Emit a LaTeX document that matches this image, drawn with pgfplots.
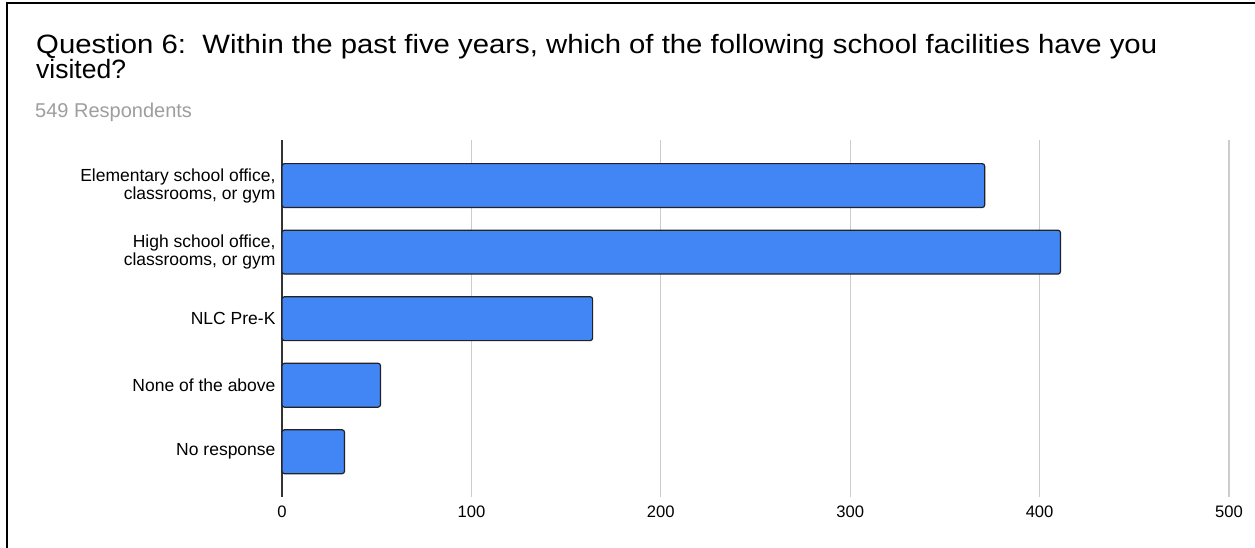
\documentclass[border=0pt]{standalone}
\usepackage{pgfplots}
\pgfplotsset{compat=1.18}
\usepackage{fontspec}
\setmainfont{Liberation Sans}
\definecolor{barblue}{HTML}{4285F4}
\definecolor{baredge}{HTML}{222222}
\definecolor{gridgray}{HTML}{CCCCCC}
\definecolor{subgray}{HTML}{9E9E9E}
\definecolor{axisdark}{HTML}{333333}
\begin{document}
\begin{tikzpicture}[x=1pt,y=1pt]
\useasboundingbox (0,0) rectangle (1255,548);
\fill[white] (0,0) rectangle (1255,548);
\draw[line width=2pt,black] (7,0) -- (7,544.5) -- (1255,544.5);
\node[anchor=base west,inner sep=0pt,font=\fontsize{26.5}{28}\selectfont] at (36,494) {\resizebox{1121pt}{\height}{Question 6:\ \ Within the past five years, which of the following school facilities have you}};
\node[anchor=base west,inner sep=0pt,font=\fontsize{26.5}{28}\selectfont] at (36,469) {\resizebox{!}{\height}{visited?}};
\node[anchor=base west,inner sep=0pt,font=\fontsize{20}{22}\selectfont,text=subgray] at (35,430) {549 Respondents};
\begin{axis}[
  at={(282pt,51pt)}, anchor=south west,
  scale only axis, width=947pt, height=357pt,
  xbar, bar width=0.66,
  xmin=0, xmax=500,
  ymin=-0.685, ymax=4.68,
  y dir=reverse,
  ytick={0,1,2,3,4},
  yticklabels={{Elementary school office,\\classrooms, or gym},{High school office,\\classrooms, or gym},{NLC Pre-K},{None of the above},{No response}},
  yticklabel style={align=right,font=\fontsize{17.5}{18}\selectfont,xshift=-3pt},
  xtick={0,100,200,300,400,500},
  xticklabel style={font=\fontsize{16.6}{18}\selectfont,yshift=-5.5pt},
  /pgf/number format/assume math mode=true,
  major tick length=0pt,
  xmajorgrids, grid style={gridgray,line width=1.2pt},
  axis lines*=left,
  x axis line style={draw=none},
  y axis line style={draw=axisdark,line width=1.3pt},
  clip=false,
]
\addplot[fill=barblue,draw=baredge,line width=1.2pt,rounded corners=2.5pt] coordinates {(371,0) (411,1) (164,2) (52,3) (33,4)};
\end{axis}
\end{tikzpicture}
\end{document}
